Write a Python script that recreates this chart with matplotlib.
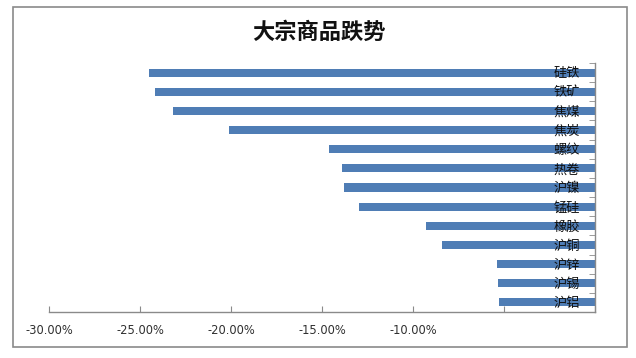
import matplotlib
matplotlib.use("Agg")
import matplotlib.pyplot as plt
from matplotlib.patches import Rectangle
from matplotlib.ticker import FixedLocator

plt.rcParams['font.family'] = ['Noto Sans CJK SC', 'DejaVu Sans']

categories = ["硅铁", "铁矿", "焦煤", "焦炭", "螺纹", "热卷", "沪镍", "锰硅", "橡胶", "沪铜", "沪锌", "沪锡", "沪铝"]
values = [-0.245, -0.242, -0.232, -0.201, -0.146, -0.139, -0.138, -0.1295, -0.093, -0.084, -0.054, -0.0535, -0.053]
xticks = [-0.30, -0.25, -0.20, -0.15, -0.10, -0.05, 0.0]
xticklabels = ["-30.00%", "-25.00%", "-20.00%", "-15.00%", "-10.00%", "", ""]
title = "大宗商品跌势"

W, H = 636, 358
fig = plt.figure(figsize=(W / 100, H / 100), dpi=100)
fig.patch.set_facecolor("white")

# outer frame
fig.patches.append(Rectangle((13 / W, 1 - 347 / H), (627 - 13) / W, (347 - 7) / H,
                             transform=fig.transFigure, fill=False, edgecolor="#8a8a8a", linewidth=1.2))

ax = fig.add_axes([49 / W, 1 - 312 / H, (595 - 49) / W, (312 - 63) / H])
y = list(range(len(categories)))
ax.barh(y, values, height=0.42, color="#4F7DB5")
ax.set_xlim(-0.30, 0.0)
ax.set_ylim(len(categories) - 0.5, -0.5)

for s in ["top", "left"]:
    ax.spines[s].set_visible(False)
for s in ["bottom", "right"]:
    ax.spines[s].set_color("#8a8a8a")
    ax.spines[s].set_linewidth(1.0)

ax.set_xticks(xticks)
ax.set_xticklabels(xticklabels, fontsize=8.3, color="#303030", family=['DejaVu Sans'])
ax.tick_params(axis="x", direction="in", length=4, color="#8a8a8a", pad=9)

ax.yaxis.set_ticks_position("right")
ax.set_yticks(y)
ax.set_yticklabels(categories, fontsize=9.5, color="#101010")
ax.tick_params(axis="y", which="major", length=0, pad=-10.5, labelright=True, labelleft=False)
for lab in ax.get_yticklabels():
    lab.set_horizontalalignment("right")
ax.yaxis.set_minor_locator(FixedLocator([i - 0.5 for i in range(len(categories) + 1)]))
ax.tick_params(axis="y", which="minor", direction="in", length=4, color="#8a8a8a")

fig.text(319 / W, 1 - 32 / H, title, ha="center", va="center", fontsize=16, weight="bold", color="#111111")

fig.savefig("out.png", dpi=100)
